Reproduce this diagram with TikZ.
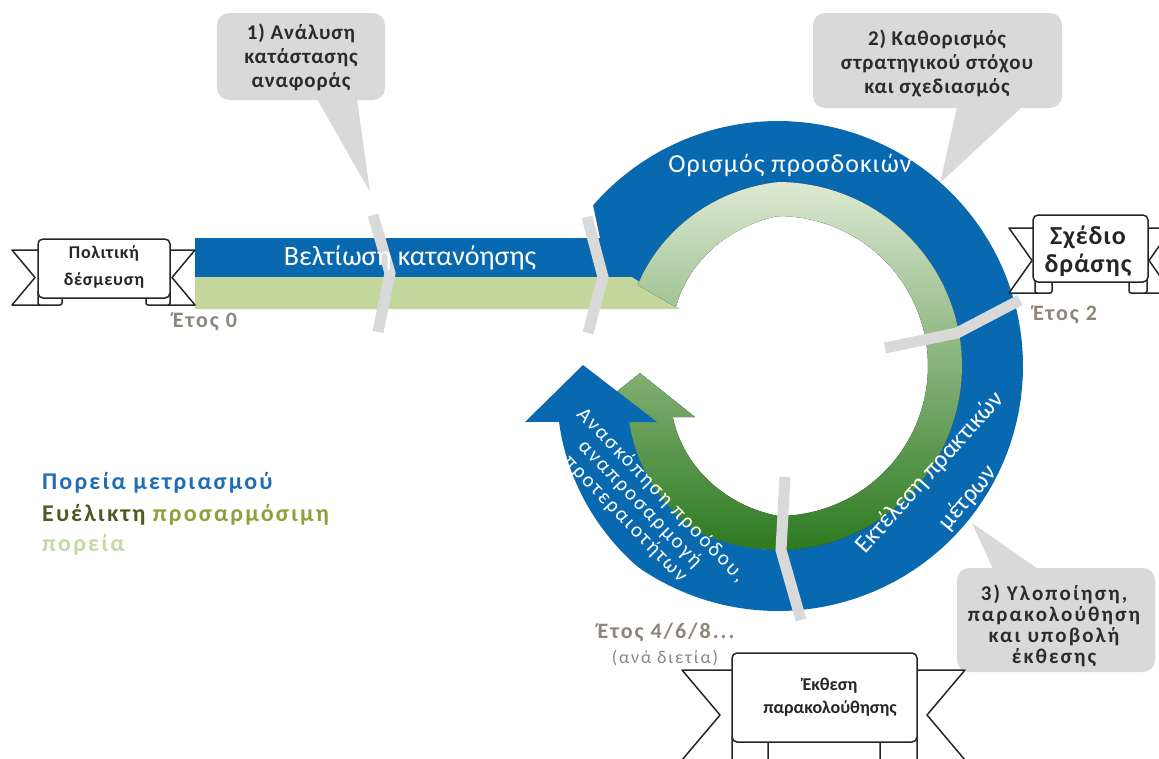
\documentclass[tikz,border=0pt]{standalone}
\usepackage{fontspec}
\setmainfont{Carlito}
\newfontfamily\fA[LetterSpace=4]{Carlito}
\newfontfamily\fB[LetterSpace=9]{Carlito}
\newfontfamily\fC[LetterSpace=10]{Carlito}
\definecolor{blueC}{HTML}{0868B0}
\definecolor{bandG}{HTML}{C3D69B}
\definecolor{gTop}{HTML}{DDE9D2}
\definecolor{gMid}{HTML}{A6C487}
\definecolor{gBot}{HTML}{2C7A1F}
\definecolor{divG}{HTML}{D9D9D9}
\definecolor{callG}{HTML}{D9D9D9}
\definecolor{calltxt}{HTML}{2B2B2B}
\definecolor{yeartxt}{HTML}{8B857C}
\definecolor{legBlue}{HTML}{1F6DB5}
\definecolor{legDark}{HTML}{4E5A22}
\definecolor{legOlive}{HTML}{8FA03A}
\definecolor{legLight}{HTML}{C5D9A2}
\begin{document}
\begin{tikzpicture}[x=1pt,y=-1pt,
  divider/.style={line width=11pt,draw=divG},
  callout/.style={fill=callG},
  calltext/.style={text=calltxt,align=center,inner sep=0pt,font=\fA\bfseries\fontsize{21}{24}\selectfont},
  ban/.style={fill=white,draw=black!85,line width=1.5pt,line join=round},
  bantext/.style={text=black!85,align=center,inner sep=0pt},
  yeartext/.style={text=yeartxt,inner sep=0pt,font=\fB\bfseries\fontsize{22}{26}\selectfont},
  whitetext/.style={text=white,inner sep=0pt},
  legtext/.style={anchor=west,inner sep=0pt,font=\fB\bfseries\fontsize{24}{28}\selectfont}]
\useasboundingbox (0,0) rectangle (1159,758);
\def\cx{778}\def\cy{366}

% blue main ring and band
\fill[blueC] (195,238) -- (600,238) -- (593,205)
  -- plot[domain=-139:90,samples=90] ({\cx+245*cos(\x)},{\cy+245*sin(\x)})
  -- plot[domain=90:-150,samples=90] ({\cx+min(184,162+(\x+150)*22/60)*cos(\x)},{\cy+min(184,162+(\x+150)*22/60)*sin(\x)})
  -- (600,277) -- (195,277) -- cycle;

% light green band
\fill[bandG] (195,277) -- (632,277) -- (680,309) -- (195,309) -- cycle;

% green ring with arrow
\fill[top color=gTop, middle color=gMid, bottom color=gBot]
  plot[domain=-150:90,samples=90] ({\cx+min(184,162+(\x+150)*22/60)*cos(\x)},{\cy+min(184,162+(\x+150)*22/60)*sin(\x)})
  -- plot[domain=90:163,samples=30] ({\cx+184*cos(\x)},{\cy+184*sin(\x)})
  -- (585,417) -- (640,373) -- (695,417) -- (673,417)
  -- plot[domain=154.2:90,samples=30] ({\cx+(150-(\x-90)*33/64.2)*cos(\x)},{\cy+(150-(\x-90)*33/64.2)*sin(\x)})
  -- plot[domain=90:-150,samples=90] ({\cx+min(150,118+(\x+150)*32/60)*cos(\x)},{\cy+min(150,118+(\x+150)*32/60)*sin(\x)})
  -- cycle;

% blue lower arc with arrow
\fill[blueC]
  plot[domain=88:165.7,samples=50] ({\cx+min(245,245-(\x-125)*19/40.7)*cos(\x)},{\cy+min(245,245-(\x-125)*19/40.7)*sin(\x)})
  -- (525,422) -- (583,365) -- (657,422) -- (629,422)
  -- plot[domain=159.4:88,samples=50] ({\cx+min(184,184-(\x-118)*25/41.4)*cos(\x)},{\cy+min(184,184-(\x-118)*25/41.4)*sin(\x)})
  -- cycle;

% dividers
\draw[divider] (373,215) -- (390,273) -- (378,332);
\draw[divider] (587,217) -- (603,277) -- (588,333);
\draw[divider] (885,348) -- (957,333) -- (1020,300);
\draw[divider] (785,477) -- (781,550) -- (801,620);

% texts on bands
\node[whitetext,font=\fontsize{28}{32}\selectfont] (t1) at (410,258) {Βελτίωση κατανόησης};
\node[whitetext,font=\fA\fontsize{26}{30}\selectfont] (t2) at (790,165) {Ορισμός προσδοκιών};
\node[whitetext,font=\fontsize{25}{30}\selectfont,rotate=48] (t3a) at (930,473) {Εκτέλεση πρακτικών};
\node[whitetext,font=\fontsize{25}{30}\selectfont,rotate=50] (t3b) at (968,498) {μέτρων};
\node[whitetext,font=\fC\fontsize{21}{24}\selectfont,rotate=-46] (t4a) at (661,495) {Ανασκόπηση προόδου,};
\node[whitetext,font=\fC\fontsize{21}{24}\selectfont,rotate=-46] (t4b) at (640,504) {αναπροσαρμογή};
\node[whitetext,font=\fC\fontsize{21}{24}\selectfont,rotate=-46] (t4c) at (625,519) {προτεραιοτήτων};

% callouts
\fill[callout,rounded corners=12pt] (217,13) rectangle (385,100);
\fill[callout] (317,99) -- (357,99) -- (370,192) -- cycle;
\node[calltext] (c1) at (301,57) {1) Ανάλυση\\κατάστασης\\αναφοράς};

\fill[callout,rounded corners=12pt] (813,13) rectangle (1062,108);
\fill[callout] (957,107) -- (1022,107) -- (940,183) -- cycle;
\node[calltext] (c2) at (937,63) {2) Καθορισμός\\στρατηγικού στόχου\\και σχεδιασμός};

\fill[callout,rounded corners=12pt] (957,568) rectangle (1155,672);
\fill[callout] (993,569) -- (1038,569) -- (972,523) -- cycle;
\node[calltext,font=\fC\bfseries\fontsize{21}{21}\selectfont] (c3) at (1054,626) {3) Υλοποίηση,\\παρακολούθηση\\και υποβολή\\έκθεσης};

% left banner
\filldraw[ban] (48,250) -- (12,250) -- (35,277.5) -- (12,305) -- (48,305) -- cycle;
\filldraw[ban] (160,250) -- (195,250) -- (172,277.5) -- (195,305) -- (160,305) -- cycle;
\filldraw[ban,rounded corners=2pt] (38,291) rectangle (62,305);
\filldraw[ban,rounded corners=2pt] (146,291) rectangle (170,305);
\filldraw[ban,rounded corners=5pt] (38,239) rectangle (170,298);
\node[bantext,font=\fA\bfseries\fontsize{18}{27}\selectfont] (b1) at (104,267) {Πολιτική\\δέσμευση};

% right banner
\filldraw[ban] (1043,228) -- (1009,228) -- (1032,260.5) -- (1009,293) -- (1043,293) -- cycle;
\filldraw[ban] (1138,228) -- (1172,228) -- (1149,260.5) -- (1172,293) -- (1138,293) -- cycle;
\filldraw[ban,rounded corners=2pt] (1035,278) rectangle (1052,293);
\filldraw[ban,rounded corners=2pt] (1129,278) rectangle (1147,293);
\filldraw[ban,rounded corners=5pt] (1033,215) rectangle (1148,282);
\node[bantext,font=\fA\bfseries\fontsize{26}{28}\selectfont] (b2) at (1088,251) {Σχέδιο\\δράσης};

% bottom banner
\filldraw[ban] (745,670) -- (682,670) -- (720,715) -- (682,760) -- (745,760) -- cycle;
\filldraw[ban] (905,670) -- (965,670) -- (927,715) -- (965,760) -- (905,760) -- cycle;
\filldraw[ban,rounded corners=2pt] (732,736) rectangle (768,762);
\filldraw[ban,rounded corners=2pt] (880,736) rectangle (917,762);
\filldraw[ban,rounded corners=5pt] (732,653) rectangle (917,742);
\node[bantext,font=\bfseries\fontsize{18}{23}\selectfont] (b3) at (830,697) {Έκθεση\\παρακολούθησης};

% year labels
\node[yeartext] (y0) at (205,322) {Έτος 0};
\node[yeartext] (y2) at (1065,315) {Έτος 2};
\node[yeartext] (y4) at (666,632) {Έτος 4/6/8...};
\node[text=yeartxt,inner sep=0pt,font=\fC\fontsize{18}{20}\selectfont] (y4b) at (665,658) {(ανά διετία)};

% legend
\node[legtext,text=legBlue] (l1) at (42,483) {Πορεία μετριασμού};
\node[legtext] (l2) at (42,515) {\textcolor{legDark}{Ευέλικτη} \textcolor{legOlive}{προσαρμόσιμη}};
\node[legtext,text=legLight] (l3) at (42,545) {πορεία};
\end{tikzpicture}
\end{document}
